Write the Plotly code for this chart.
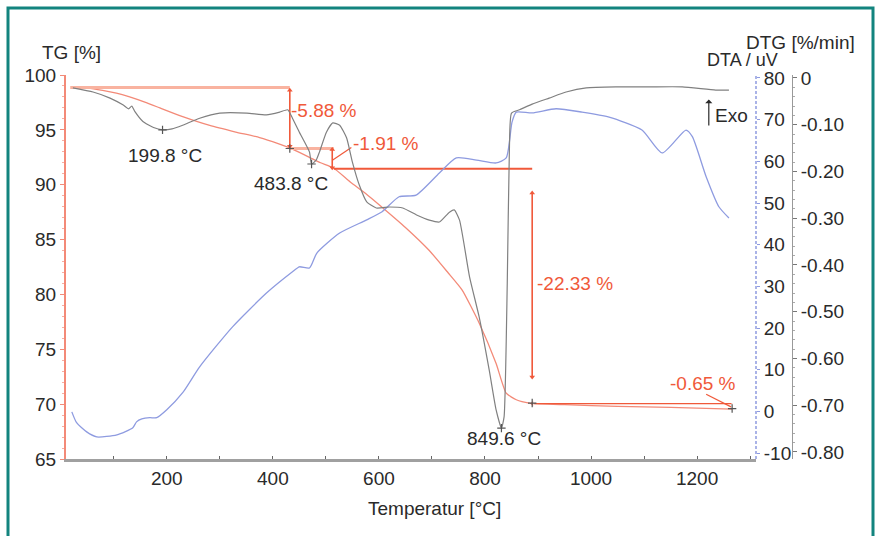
import plotly.graph_objects as go

# ---------------- data ----------------
tg_T = [23, 50, 79, 105, 130, 160, 187, 230, 281, 330, 375, 410, 432, 469, 490, 515, 546, 575,
        607, 650, 695, 730, 757, 789, 821, 840, 859, 884, 950, 1050, 1150, 1266]
tg_V = [98.85, 98.8, 98.6, 98.35, 98.0, 97.5, 97.0, 96.2, 95.4, 94.8, 94.3, 93.75, 93.35, 92.5,
        92.0, 91.5, 90.25, 89.2, 87.9, 86.1, 84.0, 82.0, 80.4, 77.4, 73.7, 71.0, 70.4, 70.1,
        69.95, 69.8, 69.7, 69.55]

dtg_T = [23, 61, 93, 118, 128, 134, 140, 155, 175, 192, 210, 230, 262, 300, 351, 388, 413, 428,
         437, 450, 469, 473, 482, 488, 501, 513, 526, 539, 550, 563, 577, 595, 620, 645, 671, 695,
         714, 733, 742, 752, 771, 789, 808, 821, 831, 836, 842, 846, 850, 865, 889, 921, 953, 991,
         1047, 1110, 1172, 1235, 1260]
dtg_V = [-0.021, -0.030, -0.043, -0.058, -0.066, -0.060, -0.072, -0.093, -0.106, -0.111, -0.109,
         -0.101, -0.086, -0.075, -0.075, -0.079, -0.073, -0.068, -0.086, -0.116, -0.158, -0.184,
         -0.175, -0.158, -0.116, -0.096, -0.101, -0.128, -0.180, -0.229, -0.265, -0.278, -0.276,
         -0.278, -0.293, -0.304, -0.308, -0.287, -0.282, -0.304, -0.426, -0.511, -0.625, -0.710,
         -0.749, -0.725, -0.439, -0.154, -0.075, -0.068, -0.056, -0.043, -0.030, -0.021, -0.019,
         -0.019, -0.019, -0.026, -0.026]

dta_T = [21, 30, 49, 68, 106, 136, 143, 153, 168, 181, 200, 230, 262, 324, 388, 437, 450, 469,
         483, 526, 576, 606, 638, 670, 714, 746, 784, 821, 840, 851, 859, 889, 934, 983, 1034,
         1096, 1134, 1179, 1191, 1217, 1241, 1260]
dta_V = [-0.1, -2.7, -4.9, -6.1, -5.6, -3.9, -2.5, -1.8, -1.5, -1.5, 0.4, 4.5, 10.7, 20.3, 28.4,
         33.5, 34.7, 34.4, 38.0, 42.8, 45.9, 47.9, 51.5, 51.9, 57.2, 60.8, 60.3, 59.6, 60.8, 69.4,
         71.8, 71.6, 72.6, 71.8, 70.6, 67.5, 62.0, 67.5, 65.9, 56.3, 49.1, 46.4]

# peak labels (DTG minima)
peak_T = [192, 473, 831]
peak_V = [-0.111, -0.184, -0.749]
peak_labels = ["199.8 °C", "483.8 °C", "849.6 °C"]
peak_label_T = [196, 435, 836]
peak_label_V = [-0.165, -0.225, -0.772]

# TG step evaluation
step_start_T = [18, 432, 515]
step_end_T = [432, 515, 889]
step_level = [98.85, 93.3, 91.45]
step_arrow_T = [432, 512, 889, 1266]
step_arrow_top = [98.6, 93.2, 89.24, 70.05]
step_arrow_bot = [93.5, 91.55, 72.47, 70.05]
step_labels = ["-5.88 %", "-1.91 %", "-22.33 %", "-0.65 %"]
step_label_T = [431, 548, 970, 1211]
step_label_V = [96.8, 93.8, 81.0, 71.9]
tg_mark_T = [432, 889, 1266]
tg_mark_V = [93.3, 70.1, 69.6]

tg_ticks = [65, 70, 75, 80, 85, 90, 95, 100]
dta_ticks = [-10, 0, 10, 20, 30, 40, 50, 60, 70, 80]
dta_ticktext = ["-10", "0", "10", "20", "30", "40", "50", "60", "70", "80"]
dtg_ticks = [0, -0.1, -0.2, -0.3, -0.4, -0.5, -0.6, -0.7, -0.8]
dtg_ticktext = ["0", "-0.10", "-0.20", "-0.30", "-0.40", "-0.50", "-0.60", "-0.70", "-0.80"]
x_ticks = [200, 400, 600, 800, 1000, 1200]

# ---------------- style ----------------
RED = "#f0593a"
SALMON = "#f38a78"
PEACH = "#f9b3a0"
GRAY = "#808080"
BLUE = "#8e9be0"
TXT = "#2a2a2a"
TEAL = "#13847e"
FONT = "Liberation Sans, Arial, sans-serif"
FS = 19

W, H = 878, 536
ML, MR, MT, MB = 66, 80, 75, 77
PW = W - ML - MR
PH = H - MT - MB

def px_x(p):
    return (p - ML) / PW

def px_y(p):
    return (H - MB - p) / PH

fig = go.Figure()

# curves
fig.add_trace(go.Scatter(x=dta_T, y=dta_V, yaxis="y2", mode="lines",
                         line=dict(color=BLUE, width=1.3, shape="spline", smoothing=0.6),
                         showlegend=False))
fig.add_trace(go.Scatter(x=dtg_T, y=dtg_V, yaxis="y3", mode="lines",
                         line=dict(color=GRAY, width=1.2, shape="spline", smoothing=0.5),
                         showlegend=False))
fig.add_trace(go.Scatter(x=tg_T, y=tg_V, yaxis="y", mode="lines",
                         line=dict(color=SALMON, width=1.3, shape="spline", smoothing=0.5),
                         showlegend=False))

# step horizontal lines
step_colors = [PEACH, PEACH, RED]
step_widths = [3, 3, 2]
for i in range(3):
    fig.add_trace(go.Scatter(x=[step_start_T[i], step_end_T[i]], y=[step_level[i], step_level[i]],
                             mode="lines", line=dict(color=step_colors[i], width=step_widths[i]),
                             showlegend=False))
# step vertical arrows
for i in range(3):
    fig.add_trace(go.Scatter(x=[step_arrow_T[i], step_arrow_T[i]],
                             y=[step_arrow_top[i], step_arrow_bot[i]], mode="lines+markers",
                             line=dict(color=RED, width=1.6),
                             marker=dict(symbol=["triangle-up", "triangle-down"], size=5, color=RED),
                             showlegend=False))
# last step arrow (horizontal)
fig.add_trace(go.Scatter(x=[step_arrow_T[2], step_arrow_T[3]],
                         y=[step_arrow_top[3], step_arrow_bot[3]], mode="lines+markers",
                         line=dict(color=RED, width=1.4),
                         marker=dict(symbol=["triangle-left", "circle"], size=[6, 1], color=RED),
                         showlegend=False))
# leader lines
fig.add_trace(go.Scatter(x=[513, 548], y=[92.25, 93.4], mode="lines",
                         line=dict(color=RED, width=1.2), showlegend=False))
fig.add_trace(go.Scatter(x=[1217, 1264], y=[70.9, 69.75], mode="lines",
                         line=dict(color=RED, width=1.2), showlegend=False))

# markers
fig.add_trace(go.Scatter(x=tg_mark_T, y=tg_mark_V, mode="markers",
                         marker=dict(symbol="cross-thin", size=6, line=dict(color="#555", width=1.2)),
                         showlegend=False))
fig.add_trace(go.Scatter(x=peak_T, y=peak_V, yaxis="y3", mode="markers",
                         marker=dict(symbol="cross-thin", size=6, line=dict(color="#555", width=1.2)),
                         showlegend=False))

annotations = []
for t, v, s in zip(peak_label_T, peak_label_V, peak_labels):
    annotations.append(dict(x=t, y=v, xref="x", yref="y3", text=s, showarrow=False,
                            xanchor="center", yanchor="middle",
                            font=dict(color=TXT, size=FS, family=FONT)))
anchors = ["left", "left", "center", "center"]
for t, v, s, a in zip(step_label_T, step_label_V, step_labels, anchors):
    annotations.append(dict(x=t, y=v, xref="x", yref="y", text=s, showarrow=False, xanchor=a,
                            yanchor="middle", font=dict(color=RED, size=FS, family=FONT)))
# Exo
annotations.append(dict(x=1222, y=74.8, xref="x", yref="y2", ax=1222, ay=68.2, axref="x",
                        ayref="y2", showarrow=True, arrowhead=1, arrowsize=1, arrowwidth=1.2,
                        arrowcolor=TXT, text=""))
annotations.append(dict(x=1230, y=71.0, xref="x", yref="y2", text="Exo", showarrow=False,
                        xanchor="left", yanchor="middle",
                        font=dict(color=TXT, size=FS, family=FONT)))
# axis titles
annotations.append(dict(x=px_x(40), y=px_y(53), xref="paper", yref="paper", text="TG [%]",
                        showarrow=False, xanchor="left", yanchor="middle",
                        font=dict(color=TXT, size=FS, family=FONT)))
annotations.append(dict(x=px_x(857), y=px_y(42), xref="paper", yref="paper", text="DTG [%/min]",
                        showarrow=False, xanchor="right", yanchor="middle",
                        font=dict(color=TXT, size=FS, family=FONT)))
annotations.append(dict(x=px_x(780), y=px_y(60), xref="paper", yref="paper", text="DTA / uV",
                        showarrow=False, xanchor="right", yanchor="middle",
                        font=dict(color=TXT, size=18, family=FONT)))
annotations.append(dict(x=px_x(435), y=px_y(508), xref="paper", yref="paper",
                        text="Temperatur [°C]", showarrow=False, xanchor="center",
                        yanchor="middle", font=dict(color=TXT, size=FS, family=FONT)))

x_end = px_x(756)
shapes = [
    # outer teal frame
    dict(type="rect", xref="paper", yref="paper", x0=px_x(8), x1=px_x(873), y0=px_y(560),
         y1=px_y(8), line=dict(color=TEAL, width=3), fillcolor="rgba(0,0,0,0)", layer="below"),
    # DTA axis line (dashed blue)
    dict(type="line", xref="paper", yref="paper", x0=x_end, x1=x_end, y0=0, y1=1,
         line=dict(color=BLUE, width=1.5, dash="3px,2px")),
]

fig.update_layout(
    width=W, height=H,
    margin=dict(l=ML, r=MR, t=MT, b=MB, pad=0),
    paper_bgcolor="white", plot_bgcolor="white",
    font=dict(family=FONT, size=FS, color=TXT),
    showlegend=False,
    xaxis=dict(domain=[0, x_end], range=[10, 1311], tickvals=x_ticks,
               ticks="inside", ticklen=3, tickcolor="#666",
               minor=dict(dtick=100, tick0=0, ticks="inside", ticklen=3, tickcolor="#666"),
               showline=True, linecolor="#a0a0a0", linewidth=3, showgrid=False, zeroline=False,
               tickfont=dict(size=FS, color=TXT)),
    yaxis=dict(range=[65, 100], tickvals=tg_ticks, ticks="outside", ticklen=4,
               tickcolor=SALMON, showline=True, linecolor=SALMON, linewidth=2,
               minor=dict(dtick=1, ticks="outside", ticklen=2, tickcolor="#f6b0a4"),
               showgrid=False, zeroline=False, tickfont=dict(size=FS, color=TXT)),
    yaxis2=dict(range=[-11.4, 80.7], tickvals=dta_ticks, ticktext=dta_ticktext,
                overlaying="y", side="right",
                anchor="x", ticks="outside", ticklen=3, tickcolor=BLUE, showline=False,
                showgrid=False, zeroline=False, tickfont=dict(size=FS, color=TXT)),
    yaxis3=dict(range=[-0.815, 0.0064], tickvals=dtg_ticks, ticktext=dtg_ticktext,
                overlaying="y", side="right", anchor="free", position=px_x(792),
                ticks="outside", ticklen=4, tickcolor="#777", showline=True, linecolor="#999",
                linewidth=1,
                minor=dict(dtick=0.02, ticks="outside", ticklen=2, tickcolor="#aaa"),
                showgrid=False, zeroline=False, tickfont=dict(size=FS, color=TXT)),
    annotations=annotations,
    shapes=shapes,
)

fig.write_html("out.html", config={"displayModeBar": False},
               post_script="document.body.style.margin='0';document.body.style.overflow='hidden';")
